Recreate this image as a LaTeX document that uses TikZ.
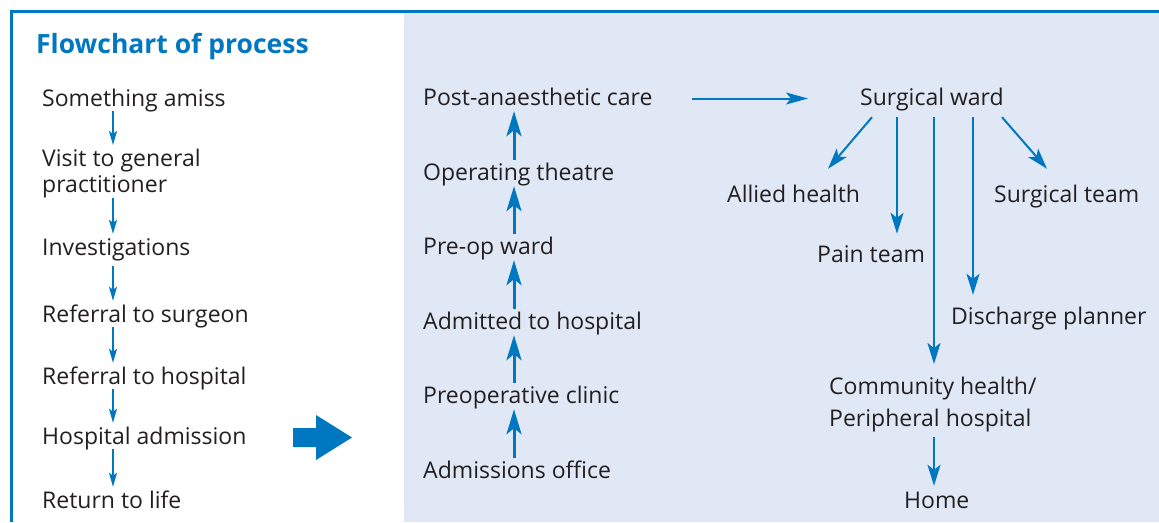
\documentclass[tikz,border=0pt]{standalone}
\usepackage{fontspec}
\newfontfamily\osans{Open Sans}
\usetikzlibrary{arrows.meta,calc}
\definecolor{cblue}{RGB}{0,119,193}
\definecolor{cpale}{RGB}{224,232,245}
\definecolor{ctext}{RGB}{35,31,32}
\begin{document}
\begin{tikzpicture}[x=1pt,y=-1pt,
  t/.style={inner sep=0pt, text height=18pt, text depth=5pt, anchor=base west,
    font=\osans\fontsize{23}{26}\selectfont, text=ctext},
  t2/.style={inner sep=0pt, align=left, anchor=north west,
    font=\osans\fontsize{23}{26}\selectfont, text=ctext},
  title/.style={inner sep=0pt, anchor=base west,
    font=\osans\bfseries\fontsize{26.5}{30}\selectfont, text=cblue},
  la/.style={draw=cblue, line width=1.8pt, shorten >=3pt,
    -{Stealth[length=14pt,width=8pt,inset=3pt]}},
  ma/.style={draw=cblue, line width=3pt, shorten <=2pt, shorten >=1pt,
    -{Stealth[length=25pt,width=15pt,inset=6pt]}},
  ra/.style={draw=cblue, line width=2pt,
    -{Stealth[length=21pt,width=13pt,inset=5pt]}},
  ha/.style={draw=cblue, line width=2pt,
    -{Stealth[length=22pt,width=12pt,inset=5pt]}}
]
\useasboundingbox (0,0) rectangle (1159,522);
\fill[white] (0,0) rectangle (1159,522);
\fill[cpale] (404,12) rectangle (1159,522);
\draw[cblue, line width=3pt] (11,522) -- (11,11.5) -- (1159,11.5);

\node[title] (ttl) at (36,53) {Flowchart of process};

% left column
\node[t] (sa) at (42,106) {Something amiss};
\node[t2] (gp) at (42,148) {\rule{0pt}{18pt}Visit to general\\practitioner\rule[-5pt]{0pt}{5pt}};
\node[t] (inv) at (42,255) {Investigations};
\node[t] (rs) at (42,322) {Referral to surgeon};
\node[t] (rh) at (42,384) {Referral to hospital};
\node[t] (had) at (42,444) {Hospital admission};
\node[t] (rl) at (42,508) {Return to life};
\coordinate (lx) at (113,0);
\draw[la] (sa.south -| lx) -- (gp.north -| lx);
\draw[la] (gp.south -| lx) -- (inv.north -| lx);
\draw[la, shorten <=6pt] (inv.south -| lx) -- (rs.north -| lx);
\draw[la] (rs.south -| lx) -- (rh.north -| lx);
\draw[la] (rh.south -| lx) -- (had.north -| lx);
\draw[la] (had.south -| lx) -- (rl.north -| lx);

% big block arrow
\fill[cblue] (293,428) -- (316,428) -- (316,415) -- (352,437.5) -- (316,460) -- (316,447) -- (293,447) -- cycle;

% middle column
\node[t] (pac) at (423,105) {Post-anaesthetic care};
\node[t] (ot) at (423,180) {Operating theatre};
\node[t] (pw) at (423,254) {Pre-op ward};
\node[t] (ath) at (423,329) {Admitted to hospital};
\node[t] (pc) at (423,403) {Preoperative clinic};
\node[t] (ao) at (423,478) {Admissions office};
\coordinate (mx) at (514,0);
\draw[ma] (ao.north -| mx) -- (pc.south -| mx);
\draw[ma] (pc.north -| mx) -- (ath.south -| mx);
\draw[ma] (ath.north -| mx) -- (pw.south -| mx);
\draw[ma] (pw.north -| mx) -- (ot.south -| mx);
\draw[ma] (ot.north -| mx) -- (pac.south -| mx);

% right part
\node[t] (sw) at (860,105) {Surgical ward};
\node[t] (alh) at (727,202) {Allied health};
\node[t] (st) at (994,202) {Surgical team};
\node[t] (pt) at (817,262) {Pain team};
\node[t] (dp) at (951,324) {Discharge planner};
\node[t2, font=\osans\fontsize{23}{32}\selectfont] (ch) at (829,376) {\rule{0pt}{18pt}Community health/\\Peripheral hospital\rule[-5pt]{0pt}{5pt}};
\node[t] (home) at (904,508) {Home};

\draw[ha] ($(pac.west)+(269,0)$) -- ($(sw.west)+(-52,0)$);
\draw[ra] ($(sw.south west)+(12,7)$) -- ($(alh.north west)+(101,-15)$);
\draw[ra] ($(sw.south west)+(37,7)$) -- ($(pt.north west)+(80,-10)$);
\draw[ra] ($(sw.south west)+(74,7)$) -- ($(ch.north west)+(105,-12)$);
\draw[ra] ($(sw.south west)+(113,7)$) -- ($(dp.north west)+(22,-11)$);
\draw[ra] ($(sw.south west)+(142,7)$) -- ($(st.north west)+(53,-15)$);
\draw[ra] ($(ch.south west)+(105,5)$) -- ($(home.north west)+(30,-4)$);
\end{tikzpicture}
\end{document}
